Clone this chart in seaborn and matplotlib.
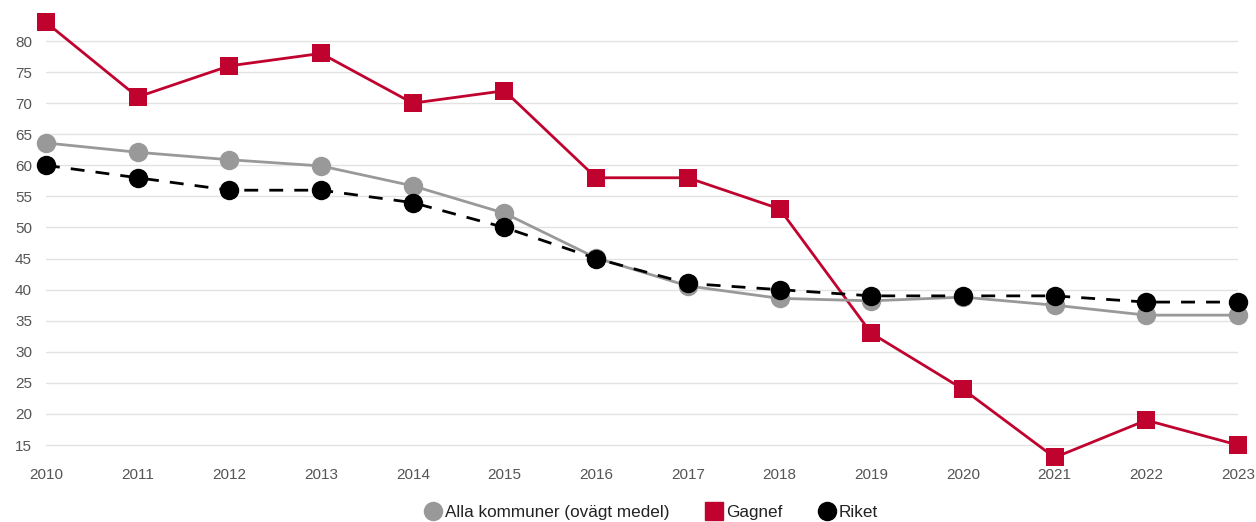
import pandas as pd
import matplotlib.pyplot as plt
import seaborn as sns
from matplotlib.lines import Line2D

# data
years = list(range(2010, 2024))
alla = [63.6, 62.1, 60.9, 59.9, 56.7, 52.3, 45.1, 40.6, 38.6, 38.2, 38.8, 37.5, 35.9, 35.9]
gagnef = [83, 71, 76, 78, 70, 72, 58, 58, 53, 33, 24, 13, 19, 15]
riket = [60, 58, 56, 56, 54, 50, 45, 41, 40, 39, 39, 39, 38, 38]
yticks = [15, 20, 25, 30, 35, 40, 45, 50, 55, 60, 65, 70, 75, 80]

sns.set_style('white')
plt.rcParams['font.family'] = ['Liberation Sans', 'DejaVu Sans']

df = pd.DataFrame({'year': years, 'alla': alla, 'gagnef': gagnef, 'riket': riket})

fig = plt.figure(figsize=(12.56, 5.22), dpi=100)
ax = fig.add_axes([0.0366, 0.1057, 0.9491, 0.8753])

# gagnef drawn first so the others sit on top (as in the reference)
sns.lineplot(data=df, x='year', y='gagnef', ax=ax, color='#C0022F', lw=2,
             marker='s', markersize=13, markeredgewidth=0, clip_on=False, zorder=3)
sns.lineplot(data=df, x='year', y='alla', ax=ax, color='#999999', lw=2,
             marker='o', markersize=14, markeredgewidth=0, clip_on=False, zorder=4)
sns.lineplot(data=df, x='year', y='riket', ax=ax, color='black', lw=2,
             marker='o', markersize=14, markeredgewidth=0, clip_on=False, zorder=5)
ax.lines[-1].set_dashes([5, 4])

ax.set_xlim(2010, 2023)
ax.set_ylim(11.5, 85)
ax.set_yticks(yticks)
ax.set_xticks(years)
ax.tick_params(axis='both', length=0, labelsize=11, labelcolor='#555555')
ax.tick_params(axis='y', pad=10)
ax.tick_params(axis='x', pad=1)
ax.yaxis.grid(True, color='#e2e2e2', lw=1)
ax.set_axisbelow(True)
ax.set_xlabel('')
ax.set_ylabel('')
sns.despine(ax=ax, left=True, bottom=True)

# legend with marker only
handles = [
    Line2D([], [], ls='', marker='o', color='#999999', markersize=13),
    Line2D([], [], ls='', marker='s', color='#C0022F', markersize=13),
    Line2D([], [], ls='', marker='o', color='black', markersize=13),
]
labels = ['Alla kommuner (ovägt medel)', 'Gagnef', 'Riket']
fig.legend(handles, labels, loc='lower center', bbox_to_anchor=(0.518, -0.025), ncol=3,
           frameon=False, fontsize=12.3, handletextpad=0.1, handlelength=1.2,
           columnspacing=2.0, labelcolor='#222222')

plt.savefig('out.png', dpi=100)
